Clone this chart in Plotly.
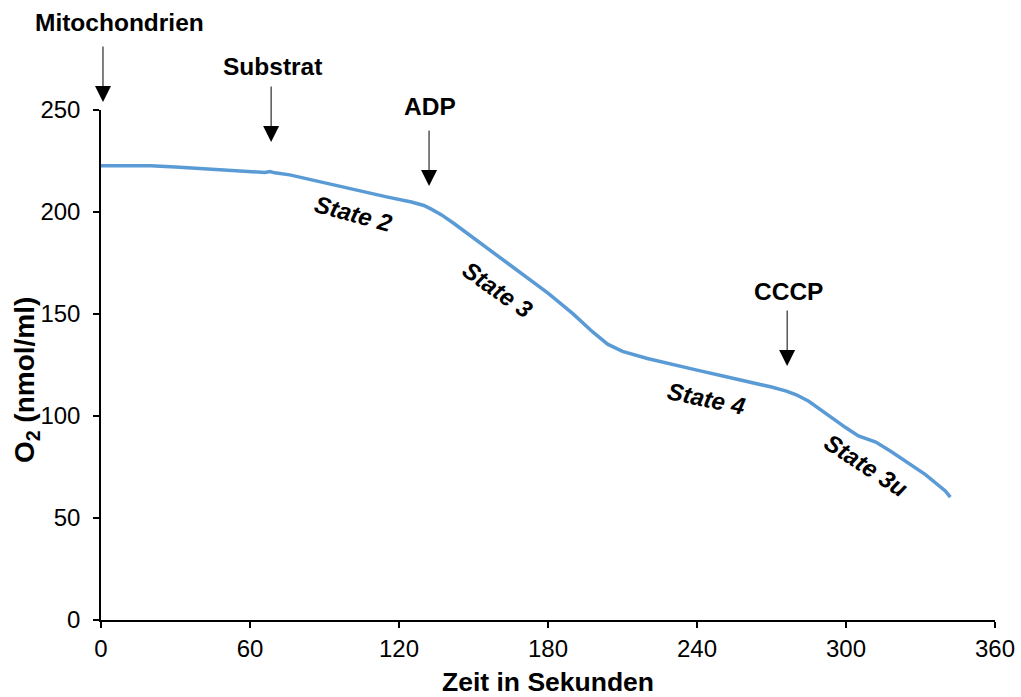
import plotly.graph_objects as go

# time in seconds and O2 concentration (nmol/ml)
time_s = [0, 10, 20, 30, 40, 50, 60, 66, 68, 70, 76, 85, 95, 105, 115, 125, 130, 133,
          137, 142, 150, 160, 170, 180, 190, 198, 204, 210, 220, 230, 240, 250, 260,
          270, 276, 280, 285, 290, 295, 300, 305, 309, 312, 318, 325, 332, 340, 342]
o2 = [222.7, 222.5, 222.7, 222.0, 221.2, 220.5, 220.0, 219.4, 219.8, 219.2, 218.2,
      215.7, 212.7, 210.0, 207.4, 204.9, 203.2, 201.4, 198.7, 194.5, 187.2, 178.2,
      169.2, 160.2, 150.2, 141.2, 135.2, 131.7, 128.2, 125.2, 122.5, 119.7, 117.0,
      114.2, 112.2, 110.4, 107.2, 102.7, 98.5, 94.2, 90.2, 88.7, 87.2, 82.7, 77.2,
      71.3, 63.3, 60.2]

x_ticks = [0, 60, 120, 180, 240, 300, 360]
y_ticks = [0, 50, 100, 150, 200, 250]
Y_MAX = 250

# additions: label, time, arrow-tip O2 level, label O2 level
additions = ["Mitochondrien", "Substrat", "ADP", "CCCP"]
add_tip_x = [0.8, 68.5, 132.1, 276.3]
add_tip_y = [253.9, 234.3, 212.7, 124.5]
add_label_x = [7.3, 69.1, 132.5, 276.8]
add_label_y = [293.1, 271.1, 251.5, 160.8]

# respiratory states: label, position, angle
states = ["State 2", "State 3", "State 4", "State 3u"]
state_x = [101.5, 159.5, 243.7, 308.1]
state_y = [199.5, 161.8, 108.8, 75.5]
state_angle = [15, 35, 12, 33]

FONT = "Liberation Sans, Arial, Helvetica, sans-serif"

fig = go.Figure()
fig.add_trace(go.Scatter(x=time_s, y=o2, mode="lines",
                         line=dict(color="#5B9BD5", width=3.5),
                         showlegend=False, hoverinfo="skip"))

annotations = []
for lbl, tx, ty, lx, ly in zip(additions, add_tip_x, add_tip_y, add_label_x, add_label_y):
    annotations.append(dict(x=tx, y=ty / Y_MAX, xref="x", yref="paper", text="",
                            showarrow=True, ax=0, ay=-57, arrowhead=2, arrowsize=3.2,
                            arrowwidth=1, arrowcolor="black"))
    annotations.append(dict(x=lx, y=ly / Y_MAX, xref="x", yref="paper",
                            xanchor="center", yanchor="middle",
                            text="<b>%s</b>" % lbl, showarrow=False,
                            font=dict(family=FONT, size=24.5, color="black")))
for lbl, sx, sy, ang in zip(states, state_x, state_y, state_angle):
    annotations.append(dict(x=sx, y=sy, xref="x", yref="y", text="<b><i>%s</i></b>" % lbl,
                            xanchor="center", yanchor="middle",
                            showarrow=False, textangle=ang,
                            font=dict(family=FONT, size=24, color="black")))

# axis titles
annotations.append(dict(x=0.5, y=-0.121, xref="paper", yref="paper",
                        xanchor="center", yanchor="middle",
                        text="<b>Zeit in Sekunden</b>", showarrow=False,
                        font=dict(family=FONT, size=26.5, color="black")))
annotations.append(dict(x=-0.083, y=0.47, xref="paper", yref="paper", textangle=-90,
                        xanchor="center", yanchor="middle",
                        text="<b>O<sub>2</sub> (nmol/ml)</b>", showarrow=False,
                        font=dict(family=FONT, size=28, color="black")))

fig.update_layout(
    width=1021, height=697,
    margin=dict(l=101, r=26, t=110, b=77),
    paper_bgcolor="white", plot_bgcolor="white",
    font=dict(family=FONT, size=24, color="black"),
    annotations=annotations,
    xaxis=dict(range=[0, 360], tickvals=x_ticks, ticktext=[str(v) for v in x_ticks],
               showgrid=False, zeroline=False, showline=True, linecolor="black", linewidth=1.5,
               ticks="outside", ticklen=6, tickcolor="black", tickwidth=1.5,
               tickfont=dict(size=24), automargin=False),
    yaxis=dict(range=[0, Y_MAX], tickvals=y_ticks, ticktext=[str(v) for v in y_ticks],
               showgrid=False, zeroline=False, showline=True, linecolor="black", linewidth=1.5,
               ticks="outside", ticklen=6, tickcolor="black", tickwidth=1.5,
               ticklabelstandoff=8,
               tickfont=dict(size=24), automargin=False),
)

fig.write_html("out.html", config={"displayModeBar": False},
               post_script="document.body.style.margin='0';document.body.style.overflow='hidden';")
